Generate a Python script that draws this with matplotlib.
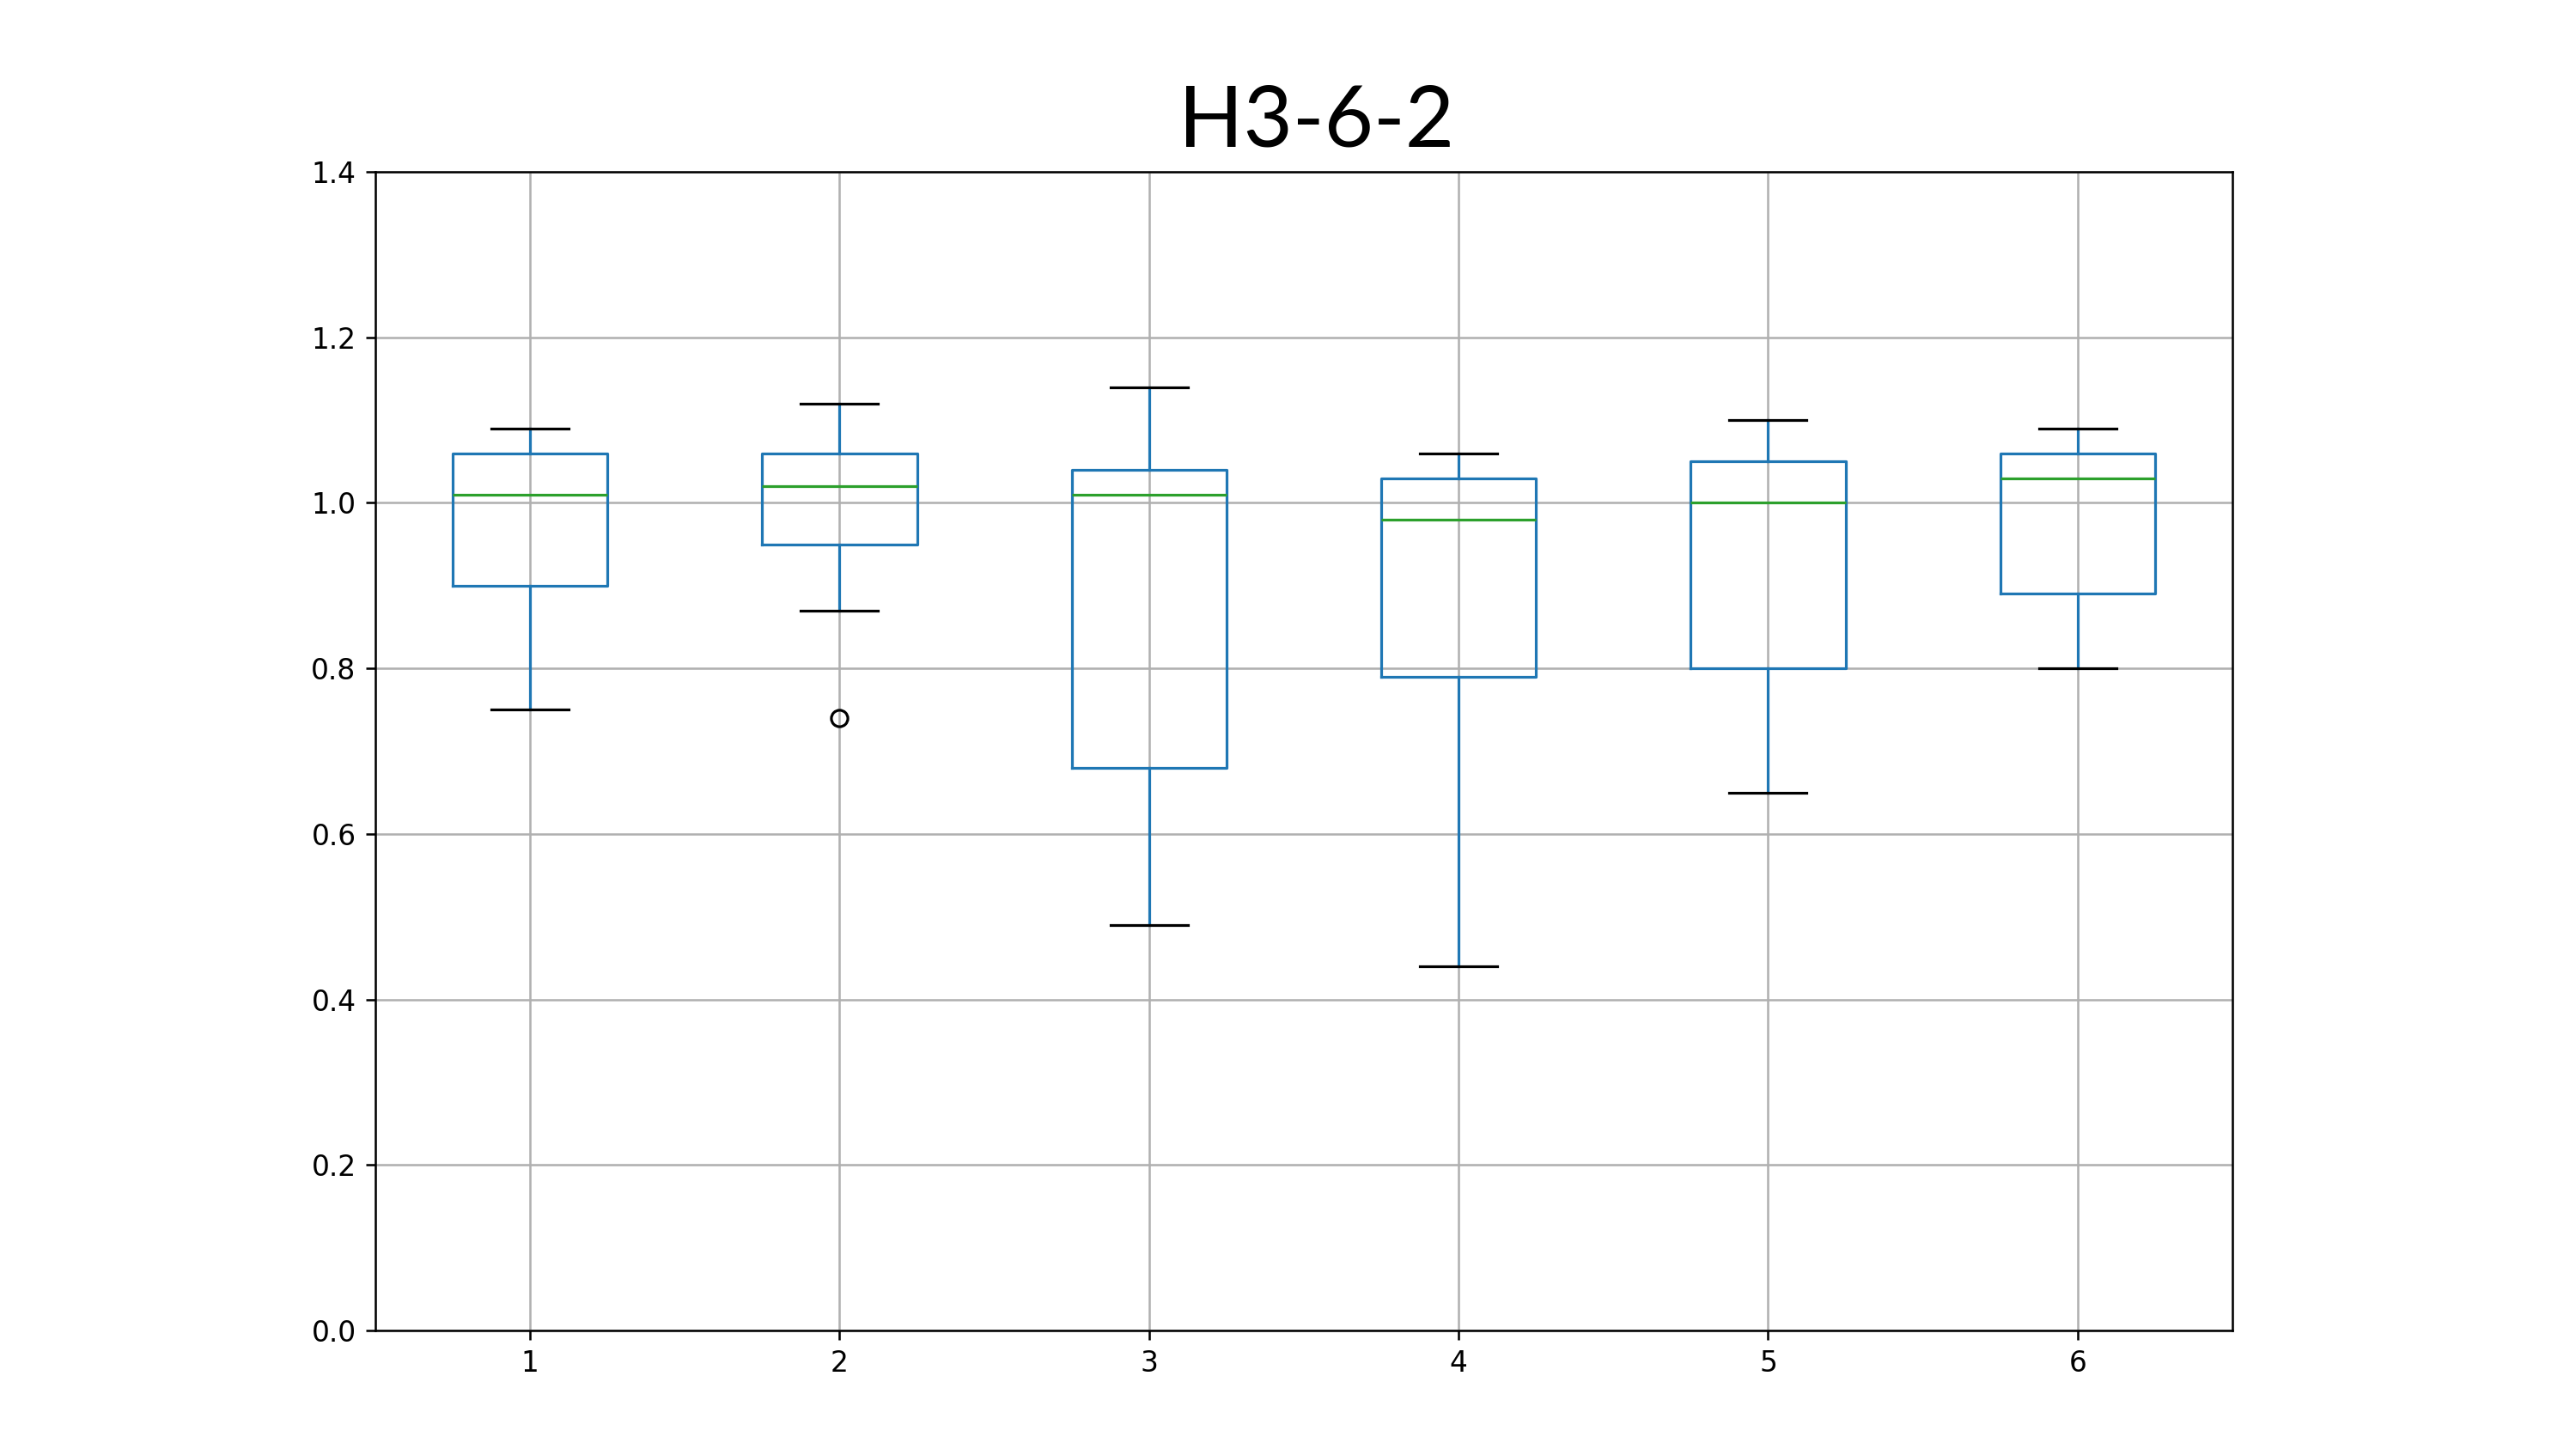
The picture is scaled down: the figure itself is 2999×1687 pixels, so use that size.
import matplotlib
matplotlib.use("Agg")
import matplotlib.pyplot as plt

# values
labels = ["1", "2", "3", "4", "5", "6"]
whislo = [0.75, 0.87, 0.49, 0.44, 0.65, 0.80]
q1 = [0.90, 0.95, 0.68, 0.79, 0.80, 0.89]
med = [1.01, 1.02, 1.01, 0.98, 1.00, 1.03]
q3 = [1.06, 1.06, 1.04, 1.03, 1.05, 1.06]
whishi = [1.09, 1.12, 1.14, 1.06, 1.10, 1.09]
fliers = [[], [0.74], [], [], [], []]

stats = []
for i in range(len(labels)):
    stats.append({"label": labels[i], "whislo": whislo[i], "q1": q1[i],
                  "med": med[i], "q3": q3[i], "whishi": whishi[i],
                  "fliers": fliers[i]})

fig = plt.figure(figsize=(2999 / 230, 1687 / 230), dpi=230)
ax = fig.add_axes([0.1457, 0.0818, 0.7209, 0.7996])

ax.bxp(stats, widths=0.5,
       boxprops=dict(color="#1f77b4"),
       whiskerprops=dict(color="#1f77b4"),
       capprops=dict(color="k"),
       medianprops=dict(color="#2ca02c"),
       flierprops=dict(marker="o", markeredgecolor="k", markerfacecolor="none"))

ax.set_ylim(0, 1.4)
ax.set_xlim(0.5, 6.5)
ax.tick_params(labelsize=10.3)
ax.grid(True, color="#b0b0b0", linewidth=0.8)
ax.set_axisbelow(True)

fig.text(0.511, 0.899, "H3-6-2", ha="center", va="baseline",
         fontsize=31, family=["Lato", "DejaVu Sans"])

fig.savefig("out.png", dpi=230)
